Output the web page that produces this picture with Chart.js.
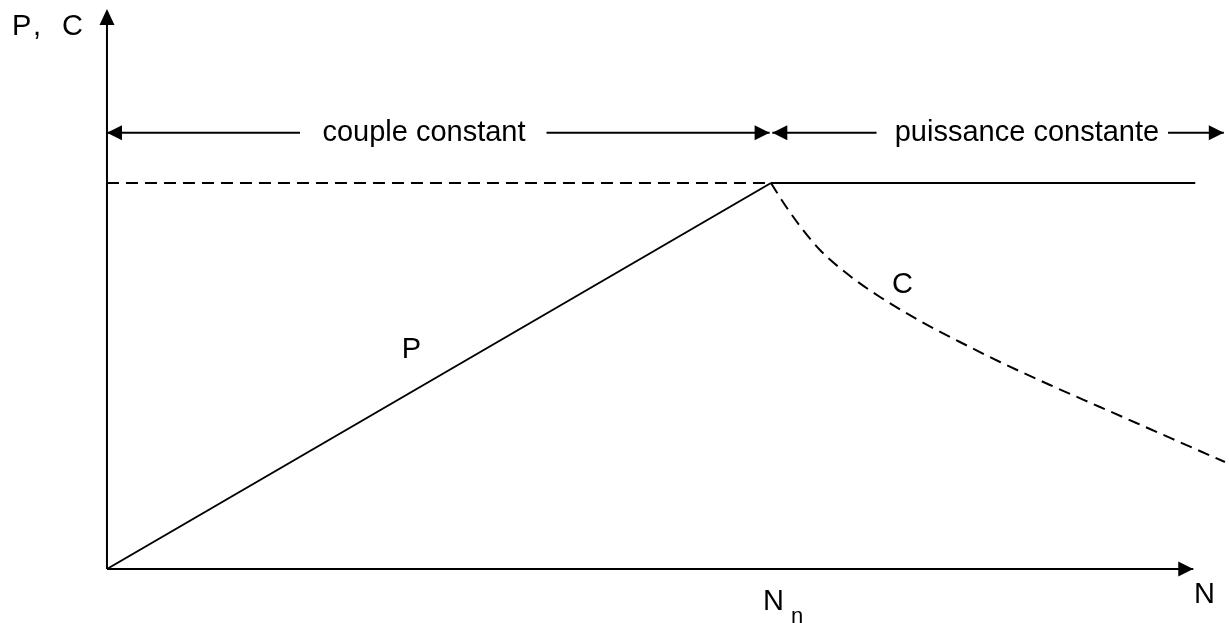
<!DOCTYPE html>
<html>
<head>
<meta charset="utf-8">
<script src="https://cdn.jsdelivr.net/npm/chart.js@4"></script>
<style>
body { margin: 0; background: #fff; }
#wrap { width: 1229px; height: 623px; position: relative; }
</style>
</head>
<body>
<div id="wrap"><canvas id="chart"></canvas></div>
<script>
// values in chart units: N / Nn on x, P / Pmax (and C / Cmax) on y
var pN = [0, 1];
var pVal = [0, 1];
var cN = [1, 1.0211, 1.0437, 1.0738, 1.119, 1.1642, 1.2244, 1.2846, 1.3449, 1.4202, 1.4955, 1.5708, 1.6837];
var cVal = [1, 0.943, 0.8886, 0.8264, 0.7591, 0.7047, 0.6425, 0.5881, 0.5363, 0.4767, 0.4197, 0.3627, 0.2772];
var powerN = [1, 1.639];
var powerVal = [1, 1];
var torqueN = [0, 1];
var torqueVal = [1, 1];
var xAxisN = [0, 1.636];
var yAxisTop = 1.451;
var zoneY = 1.13;
var zoneLabels = ['couple constant', 'puissance constante'];

function pts(xs, ys) {
    var out = [];
    for (var i = 0; i < xs.length; i++) out.push({x: xs[i], y: ys[i]});
    return out;
}

function lineSet(data, dashed) {
    return {
        data: data,
        showLine: true,
        borderColor: '#000',
        borderWidth: 2,
        borderDash: dashed ? [12, 7] : [],
        pointRadius: 0,
        fill: false
    };
}

var FONT = '29px "Liberation Sans", Arial, sans-serif';

function arrowHead(ctx, x, y, dir) {
    // dir: 'l', 'r', 'u'
    ctx.beginPath();
    if (dir == 'l') { ctx.moveTo(x, y); ctx.lineTo(x + 15, y - 7.5); ctx.lineTo(x + 15, y + 7.5); }
    if (dir == 'r') { ctx.moveTo(x, y); ctx.lineTo(x - 15, y - 7.5); ctx.lineTo(x - 15, y + 7.5); }
    if (dir == 'u') { ctx.moveTo(x, y); ctx.lineTo(x - 7.5, y + 16); ctx.lineTo(x + 7.5, y + 16); }
    ctx.closePath();
    ctx.fill();
}

var decor = {
    id: 'decor',
    afterDatasetsDraw: function(chart) {
        var ctx = chart.ctx;
        var xs = chart.scales.x, ys = chart.scales.y;
        var px = function(v) { return xs.getPixelForValue(v); };
        var py = function(v) { return ys.getPixelForValue(v); };
        ctx.save();
        ctx.fillStyle = '#000';
        ctx.strokeStyle = '#000';
        ctx.lineWidth = 2;

        // axis arrows
        arrowHead(ctx, px(0), py(yAxisTop), 'u');
        arrowHead(ctx, px(xAxisN[1]), py(0), 'r');

        // zone arrows with labels in the gap
        var zy = py(zoneY);
        var segs = [[0, 0.2907, 'l'], [0.662, 0.998, 'r'], [1.002, 1.159, 'l'], [1.598, 1.682, 'r']];
        segs.forEach(function(s) {
            ctx.beginPath();
            ctx.moveTo(px(s[0]), zy);
            ctx.lineTo(px(s[1]), zy);
            ctx.stroke();
            arrowHead(ctx, px(s[2] == 'l' ? s[0] : s[1]), zy, s[2]);
        });

        ctx.font = FONT;
        ctx.textAlign = 'center';
        ctx.textBaseline = 'middle';
        ctx.fillText(zoneLabels[0], px(0.4774), zy);
        ctx.fillText(zoneLabels[1], px(1.3855), zy);

        ctx.textAlign = 'left';
        ctx.textBaseline = 'alphabetic';
        ctx.fillText('P', 12, 35);
        ctx.fillText(',', 33, 35);
        ctx.fillText('C', 62, 35);
        ctx.fillText('N', px(1.637), py(-0.088));
        ctx.fillText('N', px(0.988), py(-0.106));
        ctx.font = '22px "Liberation Sans", Arial, sans-serif';
        ctx.fillText('n', px(1.03), py(-0.14));
        ctx.font = FONT;
        ctx.fillText('P', px(0.444), py(0.546));
        ctx.fillText('C', px(1.1822), py(0.715));
        ctx.restore();
    }
};

var chart = new Chart(document.getElementById('chart'), {
    type: 'scatter',
    data: {
        datasets: [
            lineSet(pts([0, 0], [0, yAxisTop - 0.02]), false),
            lineSet(pts(xAxisN, [0, 0]), false),
            lineSet(pts(pN, pVal), false),
            lineSet(pts(torqueN, torqueVal), true),
            lineSet(pts(powerN, powerVal), false),
            Object.assign(lineSet(pts(cN, cVal), true), {cubicInterpolationMode: 'monotone'})
        ]
    },
    options: {
        responsive: true,
        maintainAspectRatio: false,
        animation: false,
        layout: { padding: 0 },
        plugins: { legend: { display: false }, tooltip: { enabled: false } },
        scales: {
            x: { type: 'linear', display: false, min: -0.1611, max: 1.6898 },
            y: { type: 'linear', display: false, min: -0.1399, max: 1.4741 }
        }
    },
    plugins: [decor]
});
</script>
</body>
</html>
